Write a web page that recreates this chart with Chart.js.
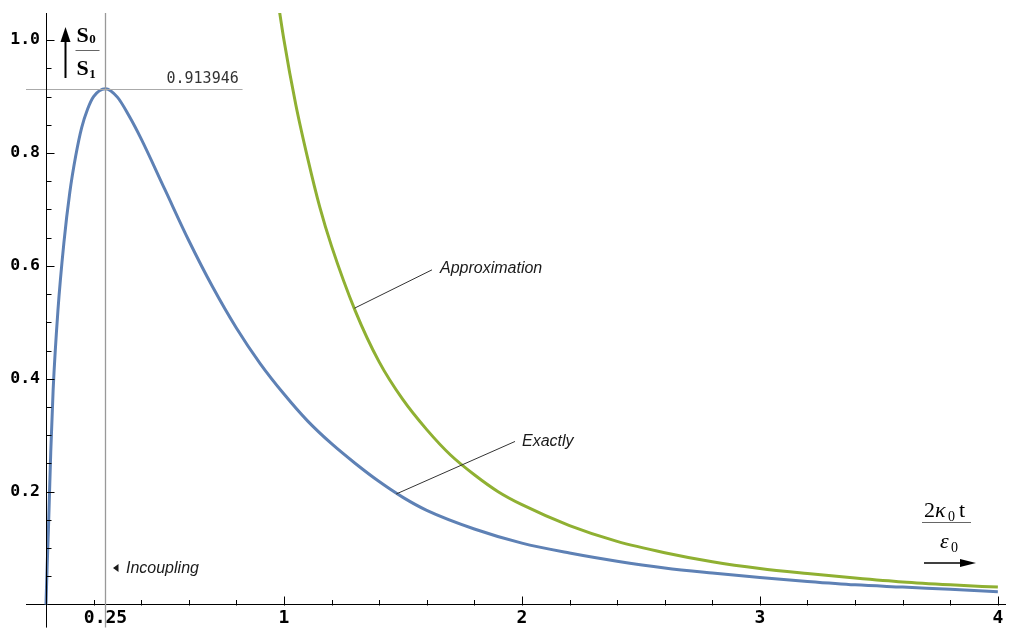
<!DOCTYPE html>
<html>
<head>
<meta charset="utf-8">
<script src="https://cdn.jsdelivr.net/npm/chart.js@4"></script>
<style>
  html, body { margin: 0; padding: 0; background: #fff; }
  #chart { display: block; }
</style>
</head>
<body>
<canvas id="chart" width="1010" height="628"></canvas>
<script>
/* global Chart */

// exact solution S0/S1 against 2*kappa0*t/eps0
const EXACT_X = [0, 0.005, 0.01, 0.02, 0.03, 0.05, 0.075, 0.1, 0.125, 0.15, 0.175, 0.2, 0.25, 0.3, 0.35, 0.4,
    0.5, 0.6, 0.7, 0.8, 0.9, 1.0, 1.1, 1.2, 1.3, 1.4, 1.5, 1.6, 1.8, 2.0, 2.2, 2.4, 2.6, 2.8, 3.0, 3.2, 3.4, 3.6, 3.8, 4.0];
const EXACT_Y = [0, 0.07, 0.13, 0.27, 0.38, 0.52, 0.64, 0.73, 0.795, 0.845, 0.878, 0.90, 0.914, 0.899, 0.865, 0.825,
    0.735, 0.645, 0.563, 0.49, 0.427, 0.373, 0.325, 0.285, 0.25, 0.218, 0.19, 0.167, 0.134, 0.109, 0.0915, 0.077, 0.065, 0.056, 0.048, 0.041, 0.035, 0.031, 0.027, 0.023];

// approximation
const APPROX_X = [0.95, 1.0, 1.05, 1.1, 1.15, 1.2, 1.3, 1.4, 1.5, 1.6, 1.7, 1.8, 1.9, 2.0, 2.2, 2.4, 2.6, 2.8, 3.0, 3.2, 3.4, 3.6, 3.8, 4.0];
const APPROX_Y = [1.14, 1.0, 0.885, 0.79, 0.705, 0.635, 0.52, 0.43, 0.363, 0.31, 0.265, 0.23, 0.20, 0.177, 0.14, 0.112, 0.092, 0.076, 0.064, 0.055, 0.047, 0.04, 0.035, 0.031];

const X_TICK_VALUES = [0.25, 1, 2, 3, 4];
const X_TICK_LABELS = ['0.25', '1', '2', '3', '4'];
const Y_TICK_VALUES = [0.2, 0.4, 0.6, 0.8, 1.0];
const Y_TICK_LABELS = ['0.2', '0.4', '0.6', '0.8', '1.0'];

const PEAK_X = 0.25;
const PEAK_Y = 0.913946;
const PEAK_LABEL = '0.913946';

const BLUE = '#5E81B5';
const GREEN = '#8FB032';
const MONO = '"DejaVu Sans Mono", monospace';
const SERIF = '"Liberation Serif", "Times New Roman", serif';
const NOTE_FONT = 'italic 16px "Liberation Sans", Arial, sans-serif';

function toPoints(xs, ys) {
    return xs.map((x, i) => ({ x, y: ys[i] }));
}

function line(ctx, x1, y1, x2, y2) {
    ctx.beginPath();
    ctx.moveTo(x1, y1);
    ctx.lineTo(x2, y2);
    ctx.stroke();
}

function arrowHead(ctx, tipX, tipY, dir, len, half) {
    ctx.beginPath();
    if (dir === 'up') {
        ctx.moveTo(tipX, tipY);
        ctx.lineTo(tipX - half, tipY + len);
        ctx.lineTo(tipX + half, tipY + len);
    } else {
        ctx.moveTo(tipX, tipY);
        ctx.lineTo(tipX - len, tipY - half);
        ctx.lineTo(tipX - len, tipY + half);
    }
    ctx.closePath();
    ctx.fill();
}

// text run with subscripts: parts = [[text, isSub], ...]
function textRun(ctx, parts, x, base, font, subFont, subDrop) {
    let cx = x;
    parts.forEach(([t, sub]) => {
        ctx.font = sub ? subFont : font;
        ctx.fillText(t, cx, sub ? base + subDrop : base);
        cx += ctx.measureText(t).width + (sub ? 1 : 0.5);
    });
    return cx;
}

// y axis line + inside tick marks, Mathematica style
const axesAndTicks = {
    id: 'axesAndTicks',
    afterDraw(chart) {
        const { ctx, chartArea: area, scales: { x, y } } = chart;
        const x0 = Math.round(x.getPixelForValue(0)) + 0.5;
        const y0 = Math.round(y.getPixelForValue(0)) + 0.5;
        ctx.save();
        ctx.strokeStyle = '#000';
        ctx.lineWidth = 1;
        line(ctx, x0, area.top, x0, area.bottom);
        for (let k = 1; k <= 20; k++) {
            const px = Math.round(x.getPixelForValue(k * 0.2)) + 0.5;
            line(ctx, px, y0, px, y0 - (k % 5 === 0 ? 9 : 5.5));
        }
        for (let k = 1; k <= 20; k++) {
            const py = Math.round(y.getPixelForValue(k * 0.05)) + 0.5;
            line(ctx, x0, py, x0 + (k % 4 === 0 ? 8 : 5), py);
        }
        ctx.restore();
    }
};

const annotations = {
    id: 'annotations',
    afterDatasetsDraw(chart) {
        const { ctx, chartArea: area, scales: { x, y } } = chart;
        const px = v => x.getPixelForValue(v);
        const py = v => y.getPixelForValue(v);
        ctx.save();
        ctx.textAlign = 'left';
        ctx.textBaseline = 'alphabetic';

        // peak marker
        ctx.strokeStyle = '#999';
        ctx.lineWidth = 1.3;
        line(ctx, Math.round(px(PEAK_X)) + 0.5, area.top, Math.round(px(PEAK_X)) + 0.5, area.bottom);
        ctx.strokeStyle = '#aaa';
        ctx.lineWidth = 1;
        line(ctx, area.left, Math.round(py(PEAK_Y)) + 0.5, px(0.826), Math.round(py(PEAK_Y)) + 0.5);
        ctx.fillStyle = '#333';
        ctx.font = '15px ' + MONO;
        ctx.textAlign = 'right';
        ctx.fillText(PEAK_LABEL, px(0.81), py(PEAK_Y) - 6);
        ctx.textAlign = 'left';

        // leaders
        ctx.strokeStyle = '#333';
        ctx.lineWidth = 1;
        line(ctx, px(1.296), py(0.525), px(1.622), py(0.593));
        line(ctx, px(1.472), py(0.196), px(1.971), py(0.289));
        ctx.fillStyle = '#1a1a1a';
        ctx.font = NOTE_FONT;
        ctx.fillText('Approximation', px(1.622) + 8, py(0.593) + 3);
        ctx.fillText('Exactly', px(1.971) + 7, py(0.289) + 4.5);

        // incoupling marker
        const ix = px(PEAK_X) + 7.5;
        const iy = py(0.065);
        ctx.beginPath();
        ctx.moveTo(ix, iy);
        ctx.lineTo(ix + 5.5, iy - 4);
        ctx.lineTo(ix + 5.5, iy + 4);
        ctx.closePath();
        ctx.fill();
        ctx.fillText('Incoupling', ix + 13, iy + 5);

        // y axis label: up arrow with S0 / S1
        const ax = Math.round(px(0)) + 19.5;
        ctx.fillStyle = '#000';
        ctx.strokeStyle = '#000';
        ctx.lineWidth = 2;
        line(ctx, ax, 78, ax, 38);
        arrowHead(ctx, ax, 27, 'up', 15, 5);
        const big = 'bold 22px ' + SERIF;
        const small = 'bold 13px ' + SERIF;
        textRun(ctx, [['S', false], ['0', true]], ax + 11, 42, big, small, 1);
        textRun(ctx, [['S', false], ['1', true]], ax + 11, 75, big, small, 3);
        ctx.strokeStyle = '#666';
        ctx.lineWidth = 1;
        line(ctx, ax + 10, 50.5, ax + 34, 50.5);

        // x axis label: 2 kappa0 t / eps0 with right arrow
        const bx = Math.round(px(3.69));
        ctx.fillStyle = '#000';
        const reg = '22px ' + SERIF;
        const sub = '14px ' + SERIF;
        ctx.font = reg;
        ctx.fillText('2', bx, 517);
        ctx.font = 'italic 22px ' + SERIF;
        ctx.fillText('\u03BA', bx + 11, 517);
        ctx.font = sub;
        ctx.fillText('0', bx + 24, 521);
        ctx.font = reg;
        ctx.fillText('t', bx + 35, 517);
        ctx.font = 'italic 22px ' + SERIF;
        ctx.fillText('\u03B5', bx + 16, 548);
        ctx.font = sub;
        ctx.fillText('0', bx + 27, 552);
        ctx.strokeStyle = '#666';
        line(ctx, bx - 2, 522.5, bx + 47, 522.5);
        ctx.strokeStyle = '#000';
        ctx.lineWidth = 1.5;
        line(ctx, bx, 563, bx + 40, 563);
        arrowHead(ctx, bx + 52, 563, 'right', 16, 4);

        ctx.restore();
    }
};

new Chart(document.getElementById('chart'), {
    type: 'line',
    data: {
        datasets: [
            {
                label: 'Exactly',
                data: toPoints(EXACT_X, EXACT_Y),
                borderColor: BLUE,
                borderWidth: 3,
                pointRadius: 0,
                cubicInterpolationMode: 'monotone',
            },
            {
                label: 'Approximation',
                data: toPoints(APPROX_X, APPROX_Y),
                borderColor: GREEN,
                borderWidth: 3,
                pointRadius: 0,
                cubicInterpolationMode: 'monotone',
            }
        ]
    },
    options: {
        responsive: false,
        animation: false,
        devicePixelRatio: 1,
        layout: { padding: { left: 26, right: 5, top: 13, bottom: 0 } },
        plugins: {
            legend: { display: false },
            tooltip: { enabled: false }
        },
        scales: {
            x: {
                type: 'linear',
                min: -0.084,
                max: 4.03,
                position: { y: 0 },
                grid: { drawOnChartArea: false, drawTicks: false },
                border: { color: '#000', width: 1 },
                afterBuildTicks: s => { s.ticks = X_TICK_VALUES.map(v => ({ value: v })); },
                ticks: {
                    autoSkip: false,
                    maxRotation: 0,
                    padding: 3,
                    color: '#000',
                    font: { family: MONO, size: 18, weight: 'bold' },
                    callback: (v, i) => X_TICK_LABELS[i]
                }
            },
            y: {
                type: 'linear',
                min: -0.0407,
                max: 1.048,
                // labels sit just left of the x=0 axis line
                position: { x: -0.025 },
                grid: { display: false, drawTicks: false },
                border: { display: false },
                afterBuildTicks: s => { s.ticks = Y_TICK_VALUES.map(v => ({ value: v })); },
                ticks: {
                    autoSkip: false,
                    padding: 0,
                    color: '#000',
                    font: { family: MONO, size: 16.5, weight: 'bold', lineHeight: 0.05 },
                    callback: (v, i) => Y_TICK_LABELS[i]
                }
            }
        }
    },
    plugins: [annotations, axesAndTicks]
});
</script>
</body>
</html>
